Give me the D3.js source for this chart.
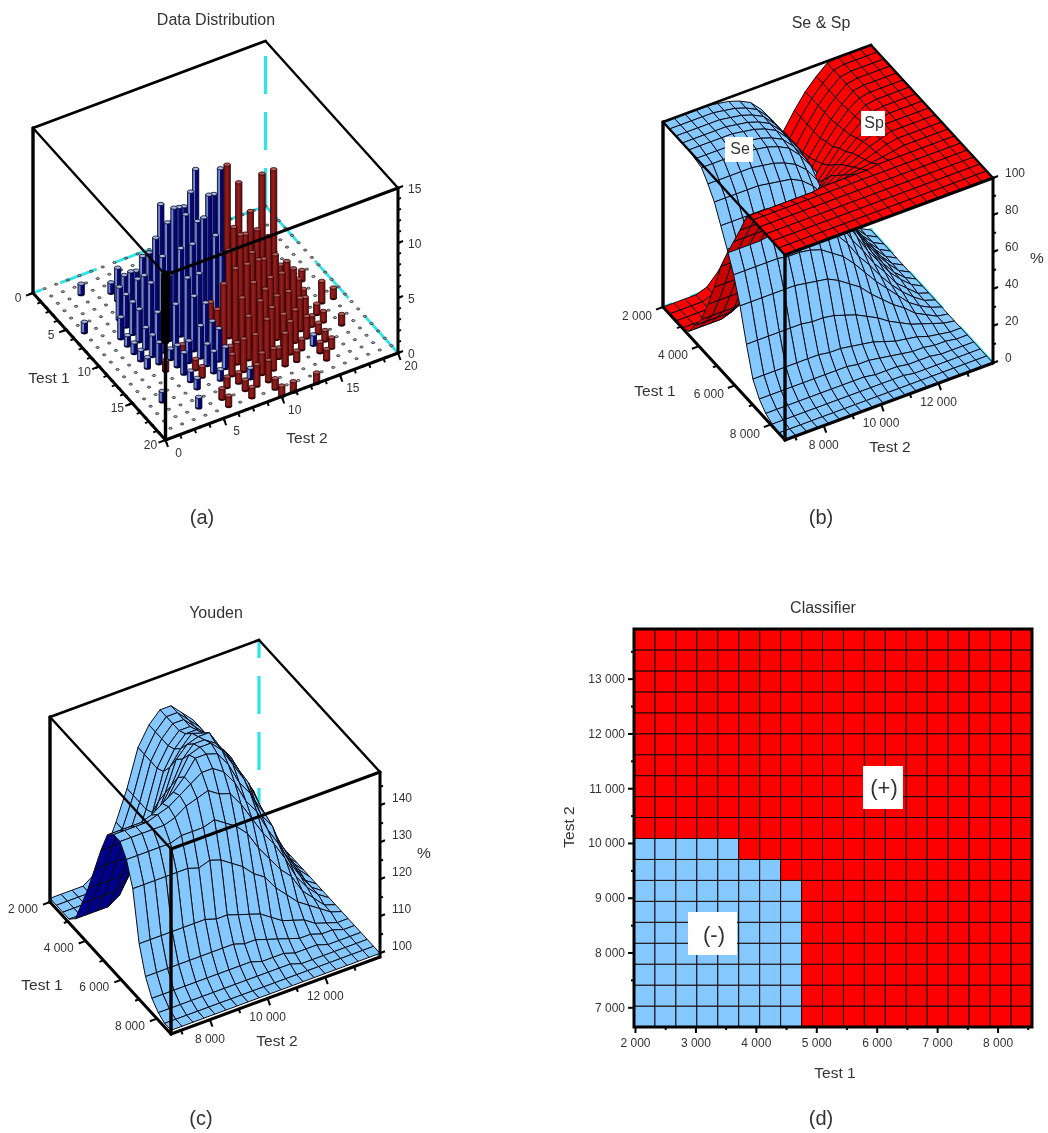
<!DOCTYPE html>
<html>
<head>
<meta charset="utf-8">
<script src="https://cdn.jsdelivr.net/npm/d3@7"></script>
<style>
  html,body{margin:0;padding:0;background:#fff;}
  svg{display:block;filter:blur(0.35px);}
  text{font-family:"Liberation Sans",Arial,sans-serif;fill:#333;}
</style>
</head>
<body>
<svg id="chart" width="1048" height="1133"></svg>
<script>
// ---- panel (a): bars, [test 1, test 2, count]
const negBars = [[7,10,12],[9,11,13],[8,11,10],[8,9,11],[7,7,10],[8,8,10],[9,7,11],[9,8,10],[8,7,9],[9,10,11],[10,9,10],[8,6,8],[7,6,6],[6,6,5],[6,5,4],[5,5,3],[4,5,3],[3,5,1],[2,3,1],[6,1,1],[6,4,3],[7,4,3],[8,3,2],[8,4,3],[9,3,1],[7,5,4],[9,5,5],[10,5,3],[11,4,2],[11,5,2],[12,4,2],[12,5,1],[16,2,1],[13,5,2],[13,6,2],[15,5,1],[16,5,1],[18,4,1],[16,7,1],[17,9,1],[16,15,1],[9,6,7],[10,4,2],[10,6,6],[10,7,8],[10,8,8],[11,7,6],[11,8,6],[12,7,5],[12,8,4],[13,7,3],[13,8,3],[7,8,8],[7,9,9],[6,7,5],[6,8,6],[5,6,3],[8,5,5],[10,10,8],[11,10,7],[9,9,9],[10,3,1],[11,3,1],[11,6,4],[9,4,3],[14,5,2],[14,7,2],[14,8,3],[15,7,2],[15,8,2],[12,3,1]];
const posBars = [[10,11,14],[10,12,12],[10,14,12],[10,15,12],[10,13,9],[11,13,8],[11,12,8],[12,11,9],[11,11,9],[12,15,5],[11,15,4],[13,15,5],[9,18,1],[11,17,1],[12,18,2],[12,19,1],[15,18,1],[16,16,1],[17,16,1],[17,15,1],[18,15,1],[14,17,1],[13,17,1],[14,16,1],[15,16,1],[20,11,1],[20,13,1],[20,10,1],[19,10,1],[18,8,1],[19,8,1],[18,6,1],[19,6,1],[18,9,2],[18,10,2],[17,13,1],[16,14,1],[15,15,2],[13,4,1],[12,6,1],[14,6,1],[15,6,1],[12,9,3],[11,9,3],[14,9,1],[15,9,2],[16,9,3],[17,12,3],[16,13,3],[12,10,8],[12,12,7],[12,13,6],[12,14,6],[13,9,6],[13,10,7],[13,11,7],[13,12,7],[13,13,5],[13,14,5],[14,10,5],[14,11,6],[14,12,5],[14,13,4],[14,14,4],[14,15,3],[15,10,4],[15,11,5],[15,12,4],[15,13,3],[15,14,3],[16,10,3],[16,11,4],[17,10,2],[17,11,2],[11,14,7],[10,16,3],[9,13,5],[9,12,6],[12,16,3],[13,16,2],[16,12,1],[16,8,2],[17,8,1],[17,7,1]];

// ---- surfaces: rows = test 1 grid, columns = test 2 grid
const test1Grid = [2000,2357,2715,3072,3429,3787,4144,4501,4859,5216,5573,5931,6288,6645,7003,7360,7717,8075,8432,8790];
const test2Grid = [6650,7032,7413,7795,8176,8558,8939,9321,9703,10084,10466,10847,11229,11611,11992,12374,12755,13137,13518,13900];

const seValues = [
  [100,100,100,100,100,99,98,96,93,87,79,69,57,46,35,25,16,9,3,0],
  [100,100,100,100,100,99,98,96,93,87,79,69,57,46,35,25,16,9,3,0],
  [100,100,100,100,100,99,98,96,93,87,79,69,57,46,35,25,16,9,3,0],
  [100,100,100,100,100,99,98,96,93,87,79,69,57,46,35,25,16,9,3,0],
  [100,100,100,100,100,99,98,96,93,87,79,69,57,46,35,25,16,9,3,0],
  [99,99,99,99,99,98,97,95,92,86,78,68,56,46,35,25,16,9,3,0],
  [98,98,98,98,98,97,96,94,91,85,77,68,56,45,34,25,16,9,3,0],
  [93,93,93,93,93,92,91,89,86,81,73,64,53,43,33,23,15,8,3,0],
  [87,87,87,87,87,86,85,84,81,76,69,60,50,40,30,22,14,8,3,0],
  [78,78,78,78,78,77,76,75,73,68,62,54,44,36,27,20,12,7,2,0],
  [69,69,69,69,69,68,68,66,64,60,55,48,39,32,24,17,11,6,2,0],
  [59,59,59,59,59,58,58,57,55,51,47,41,34,27,21,15,9,5,2,0],
  [46,46,46,46,46,46,45,44,43,40,36,32,26,21,16,12,7,4,1,0],
  [29,29,29,29,29,29,28,28,27,25,23,20,17,13,10,7,5,3,1,0],
  [14,14,14,14,14,14,14,13,13,12,11,10,8,6,5,4,2,1,0,0],
  [7,7,7,7,7,7,7,7,7,6,6,5,4,3,2,2,1,1,0,0],
  [3,3,3,3,3,3,3,3,3,3,2,2,2,1,1,1,0,0,0,0],
  [1,1,1,1,1,1,1,1,1,1,1,1,1,0,0,0,0,0,0,0],
  [0,0,0,0,0,0,0,0,0,0,0,0,0,0,0,0,0,0,0,0],
  [0,0,0,0,0,0,0,0,0,0,0,0,0,0,0,0,0,0,0,0]
];
const spValues = [
  [0,0,0,0,2,8,16,26,39,50,61,71,80,88,94,99,100,100,100,100],
  [0,0,0,0,2,8,16,26,39,50,61,71,80,88,94,99,100,100,100,100],
  [0,0,0,0,2,8,16,26,39,50,61,71,80,88,94,99,100,100,100,100],
  [0,0,0,0,2,8,16,26,39,50,61,71,80,88,94,99,100,100,100,100],
  [2,2,2,2,4,10,18,27,40,51,62,72,80,88,94,99,100,100,100,100],
  [9,9,9,9,11,16,24,33,44,54,65,74,82,89,95,99,100,100,100,100],
  [16,16,16,16,18,23,29,38,49,58,67,76,83,90,95,99,100,100,100,100],
  [28,28,28,28,29,34,40,47,56,64,72,79,86,91,96,99,100,100,100,100],
  [41,41,41,41,42,46,50,56,64,70,77,83,88,93,96,99,100,100,100,100],
  [56,56,56,56,57,60,63,67,73,78,83,87,91,95,97,100,100,100,100,100],
  [67,67,67,67,68,70,72,76,80,84,87,90,93,96,98,100,100,100,100,100],
  [77,77,77,77,77,79,81,83,86,88,91,93,95,97,99,100,100,100,100,100],
  [87,87,87,87,87,88,89,90,92,93,95,96,97,98,99,100,100,100,100,100],
  [98,98,98,98,98,98,98,99,99,99,99,99,100,100,100,100,100,100,100,100],
  [100,100,100,100,100,100,100,100,100,100,100,100,100,100,100,100,100,100,100,100],
  [100,100,100,100,100,100,100,100,100,100,100,100,100,100,100,100,100,100,100,100],
  [100,100,100,100,100,100,100,100,100,100,100,100,100,100,100,100,100,100,100,100],
  [100,100,100,100,100,100,100,100,100,100,100,100,100,100,100,100,100,100,100,100],
  [100,100,100,100,100,100,100,100,100,100,100,100,100,100,100,100,100,100,100,100],
  [100,100,100,100,100,100,100,100,100,100,100,100,100,100,100,100,100,100,100,100]
];
const youdenValues = [
  [100,100,100,100,102,107,114,122,132,137,140,140,137,134,129,124,116,109,103,100],
  [100,100,100,100,102,107,114,122,132,137,140,140,137,134,129,124,116,109,103,100],
  [100,100,100,100,102,107,114,122,132,137,140,140,137,134,129,124,116,109,103,100],
  [100,100,100,100,102,107,114,122,132,137,140,140,137,134,129,124,116,109,103,100],
  [102,102,102,102,104,109,116,123,133,138,141,141,137,134,129,124,116,109,103,100],
  [108,108,108,108,110,114,121,128,136,140,143,142,138,135,130,124,116,109,103,100],
  [114,114,114,114,116,120,125,132,140,143,144,144,139,135,129,124,116,109,103,100],
  [121,121,121,121,122,126,131,136,142,145,145,143,139,134,129,122,115,108,103,100],
  [128,128,128,128,129,132,135,140,145,146,146,143,138,133,126,121,114,108,103,100],
  [134,134,134,134,135,137,139,142,146,146,145,141,135,131,124,120,112,107,102,100],
  [136,136,136,136,137,138,140,142,144,144,142,138,132,128,122,117,111,106,102,100],
  [136,136,136,136,136,137,139,140,141,139,138,134,129,124,120,115,109,105,102,100],
  [133,133,133,133,133,134,134,134,135,133,131,128,123,119,115,112,107,104,101,100],
  [127,127,127,127,127,127,126,127,126,124,122,119,117,113,110,107,105,103,101,100],
  [114,114,114,114,114,114,114,113,113,112,111,110,108,106,105,104,102,101,100,100],
  [107,107,107,107,107,107,107,107,107,106,106,105,104,103,102,102,101,101,100,100],
  [103,103,103,103,103,103,103,103,103,103,102,102,102,101,101,101,100,100,100,100],
  [101,101,101,101,101,101,101,101,101,101,101,101,101,100,100,100,100,100,100,100],
  [100,100,100,100,100,100,100,100,100,100,100,100,100,100,100,100,100,100,100,100],
  [100,100,100,100,100,100,100,100,100,100,100,100,100,100,100,100,100,100,100,100]
];

// ---- panel (d): number of negative cells from the bottom, per test 1 column
const negRowsPerColumn = [9,9,9,9,9,8,8,7,0,0,0,0,0,0,0,0,0,0,0];
const classifierRows = d3.range(19);

// tick labels
const countTicks = [0,5,10,15,20];
const distZTicks = [0,5,10,15];
const test1Ticks = [2000,4000,6000,8000];
const test1Minor = [3000,5000,7000];
const test2Ticks = [8000,10000,12000];
const test2Minor = [7000,9000,11000,13000];
const percentTicks = [0,20,40,60,80,100];
const percentMinor = [10,30,50,70,90];
const youdenTicks = [100,110,120,130,140];
const youdenMinor = [105,115,125,135,145];
const classT1Ticks = [2000,3000,4000,5000,6000,7000,8000];
const classT1Minor = [2500,3500,4500,5500,6500,7500,8500];
const classT2Ticks = [7000,8000,9000,10000,11000,12000,13000];
const classT2Minor = [7500,8500,9500,10500,11500,12500,13500];

const RED='#ff0000', DARKRED='#c80000', SKY='#85c8ff', NAVY='#00008a', CYAN='#2fe3e8', BLACK='#000';
const fmt = d3.formatLocale({decimal:'.',thousands:' ',grouping:[3],currency:['','']}).format(',');
const svg = d3.select('#chart');

const defs = svg.append('defs');
function barGrad(id, stops){
  const g = defs.append('linearGradient').attr('id',id).attr('x1',0).attr('x2',1).attr('y1',0).attr('y2',0);
  stops.forEach(s=>g.append('stop').attr('offset',s[0]).attr('stop-color',s[1]));
}
barGrad('gradNeg',[[0,'#4f649f'],[0.36,'#7f90bc'],[0.44,'#0b0b78'],[1,'#00005e']]);
barGrad('gradPos',[[0,'#6a1010'],[0.45,'#96201f'],[0.7,'#7e1515'],[1,'#5c0808']]);

function label(g, x, y, str, size, anchor, rot){
  const t = g.append('text').attr('x',x).attr('y',y).attr('font-size',size)
    .attr('text-anchor',anchor||'middle').attr('dominant-baseline','central').text(str);
  if(rot) t.attr('transform',`rotate(${rot} ${x} ${y})`);
  return t;
}

// oblique box projection, all corners
function makeBox(o){
  const sx=d3.scaleLinear().domain(o.t1).range([0,1]);
  const sy=d3.scaleLinear().domain(o.t2).range([0,1]);
  const sz=d3.scaleLinear().domain(o.z).range([0,o.h]);
  const project=(a,b,c)=>{
    const u=sx(a), v=sy(b);
    return [o.left[0]+u*(o.front[0]-o.left[0])+v*(o.right[0]-o.front[0]),
            o.left[1]+u*(o.front[1]-o.left[1])+v*(o.right[1]-o.front[1])-sz(c)];
  };
  return {project, sx, sy, sz, o};
}

const line=d3.line();
function seg(g,a,b,w,col){
  return g.append('path').attr('d',line([a,b])).attr('fill','none')
    .attr('stroke',col||BLACK).attr('stroke-width',w).attr('stroke-linecap','round');
}

function backLines(g, box, dashV, offV, dashL, offL, dashR){
  const {project:p,o}=box;
  const LB=p(o.t1[0],o.t2[0],o.z[0]), RB=p(o.t1[1],o.t2[1],o.z[0]);
  const BB=p(o.t1[0],o.t2[1],o.z[0]), BT=p(o.t1[0],o.t2[1],o.z[1]);
  seg(g,BT,BB,3.2,CYAN).attr('stroke-dasharray',dashV).attr('stroke-dashoffset',offV).attr('stroke-linecap','butt');
  seg(g,LB,BB,2.8,CYAN).attr('stroke-dasharray',dashL).attr('stroke-dashoffset',offL).attr('stroke-linecap','butt');
  seg(g,RB,BB,2.8,CYAN).attr('stroke-dasharray',dashR).attr('stroke-linecap','butt');
}

function frontLines(g, box){
  const {project:p,o}=box;
  const [a0,a1]=o.t1,[b0,b1]=o.t2,[z0,z1]=o.z;
  const LT=p(a0,b0,z1), FT=p(a1,b0,z1), RT=p(a1,b1,z1), BT=p(a0,b1,z1);
  const LB=p(a0,b0,z0), FB=p(a1,b0,z0), RB=p(a1,b1,z0);
  seg(g,LT,BT,2.8); seg(g,BT,RT,2.4); seg(g,LT,FT,2.4); seg(g,FT,RT,3);
  seg(g,LT,LB,3.4); seg(g,FT,FB,3.4); seg(g,RT,RB,3);
  seg(g,LB,FB,3); seg(g,FB,RB,3);
}

function axisTicks(g, box, spec){
  const {project:p,o}=box;
  const tick=(a,b)=>seg(g,a,b,spec.tw||2).attr('stroke-linecap','butt');
  spec.t1.forEach(v=>{
    const q=p(v,o.t2[0],o.z[0]);
    tick(q,[q[0]-7,q[1]+2.6]);
    label(g,q[0]+spec.t1Off[0],q[1]+spec.t1Off[1],spec.fmt?spec.fmt(v):v,12);
  });
  spec.t1Minor.forEach(v=>{ const q=p(v,o.t2[0],o.z[0]); tick(q,[q[0]-4,q[1]+1.5]); });
  spec.t2.forEach(v=>{
    const q=p(o.t1[1],v,o.z[0]);
    tick(q,[q[0]+2.5,q[1]+7]);
    label(g,q[0]+spec.t2Off[0],q[1]+spec.t2Off[1],spec.fmt?spec.fmt(v):v,12);
  });
  spec.t2Minor.forEach(v=>{ const q=p(o.t1[1],v,o.z[0]); tick(q,[q[0]+1.5,q[1]+4]); });
  spec.z.forEach(v=>{
    const q=p(o.t1[1],o.t2[1],v);
    tick(q,[q[0]+5,q[1]-2]);
    label(g,q[0]+spec.zOff[0],q[1]+spec.zOff[1],v,12,'start');
  });
  spec.zMinor.forEach(v=>{ const q=p(o.t1[1],o.t2[1],v); tick(q,[q[0]+3,q[1]-1.1]); });
}

// painter's order: back corner (low test 1, high test 2) first, in each cell lower sheet first
function drawSurfaces(g, box, sheets){
  const p=box.project;
  const quads=[];
  for(let i=0;i<test1Grid.length-1;i++){
    for(let j=test2Grid.length-2;j>=0;j--){
      const cell=sheets.map(s=>{
        const z=s.values;
        const pts=[p(test1Grid[i],test2Grid[j],z[i][j]),p(test1Grid[i+1],test2Grid[j],z[i+1][j]),
                   p(test1Grid[i+1],test2Grid[j+1],z[i+1][j+1]),p(test1Grid[i],test2Grid[j+1],z[i][j+1])];
        return {pts, sheet:s, mean:(z[i][j]+z[i+1][j]+z[i+1][j+1]+z[i][j+1])/4};
      }).sort((a,b)=>a.mean-b.mean);
      quads.push(...cell);
    }
  }
  g.selectAll('path.q').data(quads).join('path').attr('class','q')
    .attr('d',d=>line(d.pts)+'Z')
    .attr('fill',d=>d3.polygonArea(d.pts)>0 ? d.sheet.top : d.sheet.under)
    .attr('stroke','#0a0a14').attr('stroke-width',1).attr('stroke-linejoin','round');
}

// ---------- (a) Data Distribution
{
  const g=svg.append('g');
  const box=makeBox({t1:[0,20],t2:[0,20],z:[0,15],h:165,left:[33,293],front:[165.5,440],right:[398,353]});
  backLines(g,box,'38 18',41,'39 19',29,'50 24');
  const cells=[];
  const used=new Set();
  negBars.forEach(b=>{cells.push({a:b[0],b:b[1],n:b[2],fill:'url(#gradNeg)',edge:'#04043a',cap:'#a9b6d6'});used.add(b[0]+'_'+b[1]);});
  posBars.forEach(b=>{cells.push({a:b[0],b:b[1],n:b[2],fill:'url(#gradPos)',edge:'#2e0404',cap:'#b45a5a'});used.add(b[0]+'_'+b[1]);});
  d3.range(21).forEach(a=>d3.range(21).forEach(b=>{ if(!used.has(a+'_'+b)) cells.push({a,b,n:0}); }));
  cells.sort((x,y)=>(x.a-x.b)-(y.a-y.b));
  const sel=g.selectAll('g.bar').data(cells).join('g').attr('class','bar');
  sel.filter(d=>d.n===0).append('ellipse')
    .attr('cx',d=>box.project(d.a,d.b,0)[0]).attr('cy',d=>box.project(d.a,d.b,0)[1])
    .attr('rx',1.7).attr('ry',1).attr('fill','#b8bcc6').attr('stroke','#222').attr('stroke-width',0.8);
  const bars=sel.filter(d=>d.n>0);
  bars.append('ellipse').attr('cx',d=>box.project(d.a,d.b,0)[0]).attr('cy',d=>box.project(d.a,d.b,0)[1])
    .attr('rx',3.2).attr('ry',1.7).attr('fill',d=>d.edge);
  bars.append('rect').attr('x',d=>box.project(d.a,d.b,0)[0]-3.2).attr('width',6.4)
    .attr('y',d=>box.project(d.a,d.b,d.n)[1]).attr('height',d=>box.sz(d.n))
    .attr('fill',d=>d.fill).attr('stroke',d=>d.edge).attr('stroke-width',0.8);
  bars.append('ellipse').attr('cx',d=>box.project(d.a,d.b,d.n)[0]).attr('cy',d=>box.project(d.a,d.b,d.n)[1])
    .attr('rx',3.2).attr('ry',1.7).attr('fill',d=>d.cap).attr('stroke',d=>d.edge).attr('stroke-width',0.8);
  // overplotted bars merge to solid black behind the front corner
  seg(g,box.project(20,0,15),[165.5,340],9);
  frontLines(g,box);
  axisTicks(g,box,{t1:countTicks,t1Minor:d3.range(0,20,1.25),t2:countTicks,t2Minor:d3.range(0,20,1.25),z:distZTicks,zMinor:d3.range(0,15,1),
    t1Off:[-15,5],t2Off:[13,13],zOff:[10,1]});
  label(g,216,19,'Data Distribution',16);
  label(g,49,377,'Test 1',15.5);
  label(g,307,437,'Test 2',15.5);
  label(g,202,517,'(a)',20);
}

// ---------- (b) Se & Sp
{
  const g=svg.append('g');
  const box=makeBox({t1:[2000,8790],t2:[6650,13900],z:[0,100],h:185,left:[663,307],front:[785,440],right:[993,363]});
  backLines(g,box,'38 18',41,'39 19',29,'50 24');
  drawSurfaces(g,box,[{values:seValues,top:SKY,under:NAVY},{values:spValues,top:RED,under:DARKRED}]);
  frontLines(g,box);
  axisTicks(g,box,{t1:test1Ticks,t1Minor:test1Minor,t2:test2Ticks,t2Minor:test2Minor,z:percentTicks,zMinor:percentMinor,
    t1Off:[-26,9],t2Off:[0,19],zOff:[12,-5],fmt:fmt});
  g.append('rect').attr('x',725).attr('y',137).attr('width',28).attr('height',25).attr('fill','#fff');
  label(g,740,148,'Se',16);
  g.append('rect').attr('x',861).attr('y',111).attr('width',24).attr('height',25).attr('fill','#fff');
  label(g,874,122,'Sp',16);
  label(g,821,22,'Se & Sp',16);
  label(g,655,390,'Test 1',15.5);
  label(g,890,446,'Test 2',15.5);
  label(g,1037,257,'%',15.5);
  label(g,821,517,'(b)',20);
}

// ---------- (c) Youden
{
  const g=svg.append('g');
  const box=makeBox({t1:[2000,8790],t2:[6650,13900],z:[99,149],h:185,left:[50,902],front:[171,1034],right:[380,957]});
  backLines(g,box,'38 18',20,'39 19',29,'50 24');
  drawSurfaces(g,box,[{values:youdenValues,top:SKY,under:NAVY}]);
  frontLines(g,box);
  axisTicks(g,box,{t1:test1Ticks,t1Minor:test1Minor,t2:test2Ticks,t2Minor:test2Minor,z:youdenTicks,zMinor:youdenMinor,
    t1Off:[-27,7],t2Off:[0,19],zOff:[12,-7],fmt:fmt});
  label(g,216,612,'Youden',16);
  label(g,42,984,'Test 1',15.5);
  label(g,277,1040,'Test 2',15.5);
  label(g,424,852,'%',15.5);
  label(g,201,1118,'(c)',20);
}

// ---------- (d) Classifier
{
  const g=svg.append('g');
  const L=634,R=1032,T=629,B=1027;
  const x=d3.scaleLinear().domain([2000,8570]).range([L+1,R]);
  const y=d3.scaleLinear().domain([6640,13907]).range([B,T]);
  const colBand=d3.scaleBand().domain(negRowsPerColumn.map((d,i)=>i)).range([L,R]);
  const rowBand=d3.scaleBand().domain(classifierRows).range([B,T]);
  const cells=[];
  negRowsPerColumn.forEach((n,c)=>classifierRows.forEach(r=>cells.push({c,r,neg:r<n})));
  g.selectAll('rect.cell').data(cells).join('rect').attr('class','cell')
    .attr('x',d=>colBand(d.c)).attr('y',d=>rowBand(d.r))
    .attr('width',colBand.bandwidth()).attr('height',rowBand.bandwidth())
    .attr('fill',d=>d.neg?SKY:RED).attr('stroke','#1a0a0a').attr('stroke-width',1);
  g.append('rect').attr('x',L).attr('y',T).attr('width',R-L).attr('height',B-T)
    .attr('fill','none').attr('stroke',BLACK).attr('stroke-width',3);

  function style(ax){
    ax.select('.domain').remove();
    ax.selectAll('.tick line').attr('stroke',BLACK).attr('stroke-width',2);
    ax.selectAll('.tick text').attr('font-size',12).attr('font-family','"Liberation Sans",Arial,sans-serif').attr('fill','#333');
  }
  g.append('g').attr('transform',`translate(0,${B})`)
    .call(d3.axisBottom(x).tickValues(classT1Ticks).tickFormat(fmt).tickSize(6).tickPadding(5)).call(style);
  g.append('g').attr('transform',`translate(0,${B})`)
    .call(d3.axisBottom(x).tickValues(classT1Minor).tickFormat('').tickSize(3)).call(style);
  g.append('g').attr('transform',`translate(${L},0)`)
    .call(d3.axisLeft(y).tickValues(classT2Ticks).tickFormat(fmt).tickSize(6).tickPadding(3)).call(style);
  g.append('g').attr('transform',`translate(${L},0)`)
    .call(d3.axisLeft(y).tickValues(classT2Minor).tickFormat('').tickSize(3)).call(style);

  g.append('rect').attr('x',863).attr('y',766).attr('width',40).attr('height',43).attr('fill','#fff');
  label(g,884,787,'(+)',22);
  g.append('rect').attr('x',688).attr('y',912).attr('width',49).attr('height',43).attr('fill','#fff');
  label(g,714,934,'(-)',22);
  label(g,823,607,'Classifier',16);
  label(g,835,1072,'Test 1',15.5);
  label(g,568,827,'Test 2',15.5,'middle',-90);
  label(g,821,1118,'(d)',20);
}
</script>
</body>
</html>
